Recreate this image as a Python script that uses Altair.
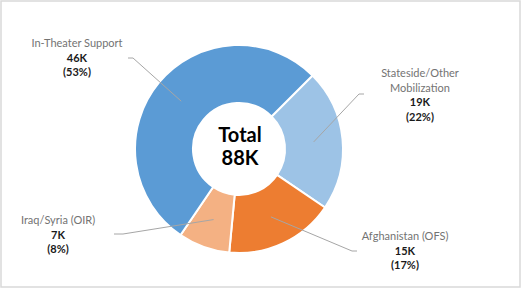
import math
import altair as alt
import pandas as pd

# ---------------- data ----------------
categories = ["Stateside/Other Mobilization", "Afghanistan (OFS)", "Iraq/Syria (OIR)", "In-Theater Support"]
name_lines = [["Stateside/Other", "Mobilization"], ["Afghanistan (OFS)"], ["Iraq/Syria (OIR)"], ["In-Theater Support"]]
values_k = [19, 15, 7, 46]
shares_pct = [22, 17, 8, 53]
center_lines = ["Total", "88K"]
colors = ["#9DC3E6", "#ED7D31", "#F4B183", "#5B9BD5"]

# ---------------- layout ----------------
W, H = 521, 289
CX, CY = 239, 149
R_IN, R_OUT = 46, 104
R_LEADER = 75
START = math.pi / 4
LINE_H = 14.5
FONT = "Lato"
label_anchor = [(420, 77), (405, 240), (58, 224), (77, 47)]
leader_elbow = [[(364, 94), (359, 94)], [(357, 251), (352, 251)],
                [(114, 234), (123, 234)], [(128, 58), (133, 58)]]

slices = pd.DataFrame({
    "category": categories,
    "share": shares_pct,
    "idx": list(range(len(categories))),
})

# label rows
name_rows, val_rows, pct_rows, leader_rows = [], [], [], []
cum = 0
for i, cat in enumerate(categories):
    ax, ay = label_anchor[i]
    for j, ln in enumerate(name_lines[i]):
        name_rows.append({"t": ln, "x": ax, "y": ay + j * LINE_H})
    n = len(name_lines[i])
    val_rows.append({"t": f"{values_k[i]}K", "x": ax, "y": ay + n * LINE_H})
    pct_rows.append({"t": f"({shares_pct[i]}%)", "x": ax, "y": ay + (n + 1) * LINE_H})
    mid = START + 2 * math.pi * (cum + shares_pct[i] / 2) / 100
    cum += shares_pct[i]
    pts = leader_elbow[i] + [(CX + R_LEADER * math.sin(mid), CY - R_LEADER * math.cos(mid))]
    for k, (px, py) in enumerate(pts):
        leader_rows.append({"cat": cat, "k": k, "x": px, "y": py})

names = pd.DataFrame(name_rows)
vals = pd.DataFrame(val_rows)
pcts = pd.DataFrame(pct_rows)
leaders = pd.DataFrame(leader_rows)
center = pd.DataFrame({"t": center_lines, "y": [CY - 7, CY + 16]})

arc = alt.Chart(slices).mark_arc(
    innerRadius=R_IN, outerRadius=R_OUT, stroke="white", strokeWidth=2
).encode(
    theta=alt.Theta("share:Q", stack=True,
                    scale=alt.Scale(range=[START, START + 2 * math.pi])),
    order=alt.Order("idx:Q"),
    color=alt.Color("category:N", scale=alt.Scale(domain=categories, range=colors), legend=None),
    x=alt.value(CX), y=alt.value(CY),
)

lead = alt.Chart(leaders).mark_line(color="#a6a6a6", strokeWidth=1).encode(
    x=alt.X("x:Q", scale=None), y=alt.Y("y:Q", scale=None),
    detail="cat:N", order="k:Q",
)

txt_name = alt.Chart(names).mark_text(
    font=FONT, fontSize=11, color="#737373", align="center", baseline="alphabetic"
).encode(x=alt.X("x:Q", scale=None), y=alt.Y("y:Q", scale=None), text="t:N")

txt_val = alt.Chart(vals).mark_text(
    font=FONT, fontSize=11, fontWeight="bold", color="#1a1a1a", align="center", baseline="alphabetic"
).encode(x=alt.X("x:Q", scale=None), y=alt.Y("y:Q", scale=None), text="t:N")

txt_pct = alt.Chart(pcts).mark_text(
    font=FONT, fontSize=11, fontWeight="bold", color="#1a1a1a", align="center", baseline="alphabetic"
).encode(x=alt.X("x:Q", scale=None), y=alt.Y("y:Q", scale=None), text="t:N")

txt_center = alt.Chart(center).mark_text(
    font=FONT, fontSize=20, fontWeight="bold", color="#000000", align="center", baseline="alphabetic"
).encode(x=alt.value(CX + 1), y=alt.Y("y:Q", scale=None), text="t:N")

border = alt.Chart(center.head(1)).mark_rect(
    fillOpacity=0, stroke="#d9d9d9", strokeWidth=1.5
).encode(x=alt.value(1), x2=alt.value(520), y=alt.value(1), y2=alt.value(287))

chart = alt.layer(border, arc, lead, txt_name, txt_val, txt_pct, txt_center).properties(
    width=W, height=H, padding=0, autosize=alt.AutoSizeParams(type="none"),
    background="white",
).configure_view(stroke=None)

chart.save("out.html", embed_options={"renderer": "svg", "actions": False})
